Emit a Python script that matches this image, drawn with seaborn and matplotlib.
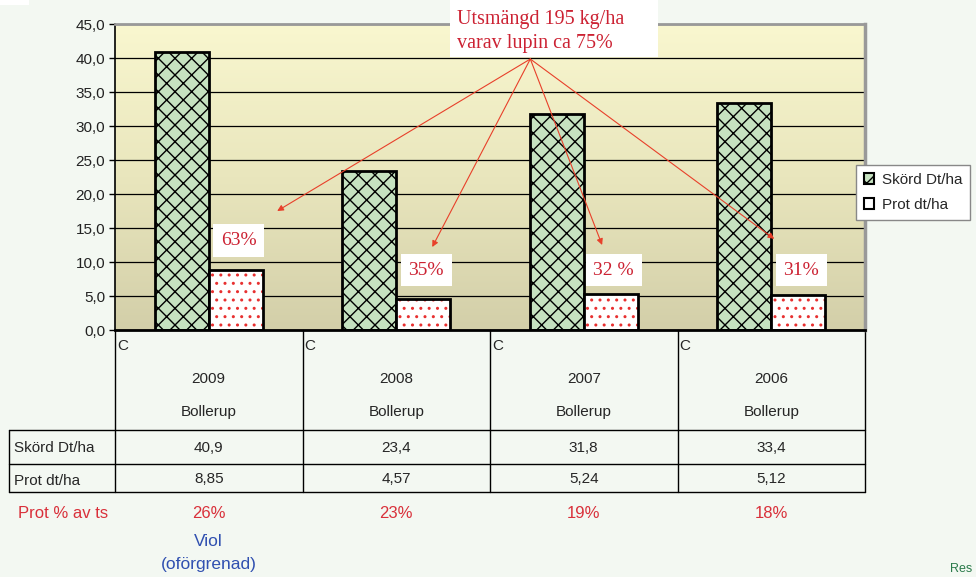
import numpy as np
import pandas as pd
import matplotlib
matplotlib.use("Agg")
import matplotlib.pyplot as plt
import seaborn as sns
from matplotlib.patches import Patch, Rectangle
from matplotlib.colors import LinearSegmentedColormap

years = ["2009", "2008", "2007", "2006"]
places = ["Bollerup", "Bollerup", "Bollerup", "Bollerup"]
skord = [40.9, 23.4, 31.8, 33.4]
prot = [8.85, 4.57, 5.24, 5.12]
prot_pct = ["26%", "23%", "19%", "18%"]
lupin_pct = ["63%", "35%", "32 %", "31%"]
series = ["Skörd Dt/ha", "Prot dt/ha"]
yticks = np.arange(0, 46, 5)

sns.set_theme(style="white")
plt.rcParams['font.family'] = ['Liberation Sans', 'DejaVu Sans']
plt.rcParams['hatch.linewidth'] = 1.0

df = pd.DataFrame({
    "year": years * 2,
    "serie": [series[0]] * 4 + [series[1]] * 4,
    "value": skord + prot,
})

green = '#c6e2c0'
red_txt = '#cc2233'
fs = 11

fig = plt.figure(figsize=(9.76, 5.77), dpi=100, facecolor='#f3f8f2')
ax = fig.add_axes([115/976, 247/577, 750/976, 306/577])

sns.barplot(data=df, x='year', y='value', hue='serie', order=years,
            hue_order=series, palette=[green, 'white'], saturation=1,
            width=0.576, edgecolor='black', linewidth=2, legend=False, ax=ax)

bars = list(ax.patches)
for p in bars[:4]:
    p.set_hatch('xx')
for p in bars[4:]:
    # red dots inside, black outline drawn on top
    p.set_hatch('..')
    p.set_edgecolor('#e83030')
    p.set_linewidth(0)
    ax.add_patch(Rectangle(p.get_xy(), p.get_width(), p.get_height(), fill=False,
                           edgecolor='black', lw=2, zorder=p.get_zorder() + 0.1))

# plot area gradient
cmap = LinearSegmentedColormap.from_list('bg', ['#f9f7cf', '#e9e6bd', '#d3cfa9'])
ax.imshow(np.linspace(0, 1, 200).reshape(-1, 1), cmap=cmap, extent=(-0.5, 3.5, 0, 45),
          aspect='auto', zorder=0, origin='upper')

ax.set_xlim(-0.5, 3.5)
ax.set_ylim(0, 45)
ax.set_yticks(yticks)
ax.set_yticklabels([f"{v:.1f}".replace('.', ',') for v in yticks])
ax.set_xticks([])
ax.set_xlabel('')
ax.set_ylabel('')
ax.set_axisbelow(True)
ax.yaxis.grid(True, color='black', lw=0.9)
ax.tick_params(axis='y', left=True, length=4, width=1, color='black', labelsize=fs,
               labelcolor='#222222', pad=3)
ax.spines['left'].set_color('black')
ax.spines['left'].set_linewidth(1.2)
ax.spines['bottom'].set_color('black')
ax.spines['bottom'].set_linewidth(2)
ax.spines['top'].set_color('#999999')
ax.spines['top'].set_linewidth(2)
ax.spines['right'].set_color('#999999')
ax.spines['right'].set_linewidth(2.5)

# percent boxes above the protein bars
for i, s in enumerate(lupin_pct):
    y = 13.2 if i == 0 else 8.8
    ax.text(i + 0.16, y, s, family='Liberation Serif', size=14, color=red_txt,
            ha='center', va='center', zorder=6,
            bbox=dict(facecolor='white', edgecolor='none', boxstyle='square,pad=0.4'))

# main annotation with arrows
ax.add_patch(Rectangle((450/976, 1 - 57/577), 208/976, 57/577, transform=fig.transFigure,
                       facecolor='white', edgecolor='none', zorder=5, clip_on=False))
ax.text(1.325, 43.9, "Utsmängd 195 kg/ha\nvarav lupin ca 75%", family='Liberation Serif',
        size=14.5, color=red_txt, ha='left', va='center', linespacing=1.35, zorder=6,
        clip_on=False)
src = (1.715, 39.85)
tips = [(0.365, 17.5), (1.192, 12.2), (2.098, 12.5), (3.016, 13.4)]
for t in tips:
    ax.annotate('', xy=t, xytext=src, zorder=6,
                arrowprops=dict(arrowstyle='-|>', color='#e8402a', lw=0.8,
                                mutation_scale=9, shrinkA=0, shrinkB=0))

# legend
handles = [Patch(facecolor=green, edgecolor='black', hatch='xx', lw=1.5),
           Patch(facecolor='white', edgecolor='black', lw=1.5)]
fig.legend(handles, series, loc='upper left', bbox_to_anchor=(856/976, 1 - 165/577),
           frameon=True, fancybox=False, edgecolor='#888888', framealpha=1, fontsize=fs,
           handlelength=0.7, handleheight=0.7, borderpad=0.5, labelspacing=0.75,
           handletextpad=0.5, borderaxespad=0)

# data table below the axis
trans = ax.get_xaxis_transform()


def fy(py):
    return (330 - py) / 306


for i in range(4):
    ax.text(i - 0.49, fy(346), 'C', transform=trans, ha='left', va='center', size=fs, clip_on=False)
    ax.text(i, fy(379), years[i], transform=trans, ha='center', va='center', size=fs, clip_on=False)
    ax.text(i, fy(412), places[i], transform=trans, ha='center', va='center', size=fs, clip_on=False)
    ax.text(i, fy(448), f"{skord[i]:.1f}".replace('.', ','), transform=trans,
            ha='center', va='center', size=fs, clip_on=False)
    ax.text(i, fy(479), f"{prot[i]:.2f}".replace('.', ','), transform=trans,
            ha='center', va='center', size=fs, clip_on=False)
    ax.text(i, fy(514), prot_pct[i], transform=trans, ha='center', va='center', size=12,
            color='#d9303a', clip_on=False)

for xb in np.arange(-0.5, 4, 1):
    ax.plot([xb, xb], [0, fy(492)], transform=trans, color='black', lw=1, clip_on=False)
xl = (9 - 115) / 750
for py in [430, 464, 492]:
    ax.plot([xl, 1], [fy(py), fy(py)], transform=ax.transAxes, color='black', lw=1, clip_on=False)
ax.plot([xl, xl], [fy(430), fy(492)], transform=ax.transAxes, color='black', lw=1, clip_on=False)

ax.text((14 - 115) / 750, fy(448), series[0], transform=ax.transAxes, ha='left', va='center',
        size=fs, clip_on=False)
ax.text((14 - 115) / 750, fy(481), series[1], transform=ax.transAxes, ha='left', va='center',
        size=fs, clip_on=False)
ax.text((18 - 115) / 750, fy(514), "Prot % av ts", transform=ax.transAxes, ha='left',
        va='center', size=12, color='#d9303a', clip_on=False)
ax.text(0, fy(541), "Viol", transform=trans, ha='center', va='center', size=12.5,
        color='#3050b0', clip_on=False)
ax.text(0, fy(565), "(oförgrenad)", transform=trans, ha='center', va='center', size=12.5,
        color='#3050b0', clip_on=False)

fig.text(950/976, 0.003, "Res", color='#2a7a4a', size=9, ha='left', va='bottom')
fig.add_artist(Rectangle((0, 1 - 5/577), 29/976, 5/577, transform=fig.transFigure,
                         facecolor='white', edgecolor='none'))

fig.savefig('out.png', dpi=100, facecolor=fig.get_facecolor())
